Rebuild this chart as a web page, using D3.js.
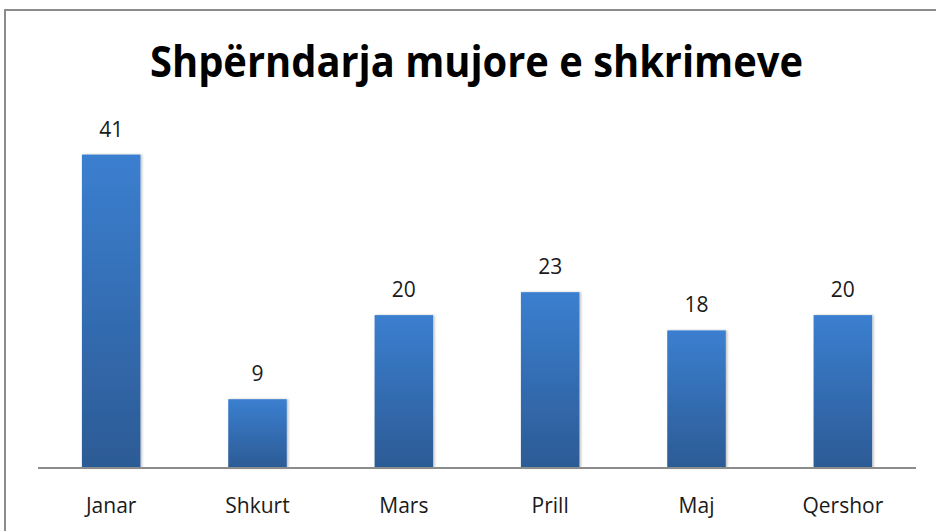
<!DOCTYPE html>
<html>
<head>
<meta charset="utf-8">
<script src="https://cdn.jsdelivr.net/npm/d3@7"></script>
<style>
  body { margin: 0; background: #fff; }
  svg { display: block; }
  text { font-family: "Open Sans", "Noto Sans", sans-serif; fill: #1a1a1a; }
</style>
</head>
<body>
<div id="chart"></div>
<script>
let width = 936
  , height = 531
  , marginLeft = 38
  , plotRight = 916
  , baseY = 468
  , topY = 124;

// data
let months = ['Janar', 'Shkurt', 'Mars', 'Prill', 'Maj', 'Qershor'];
let counts = [41, 9, 20, 23, 18, 20];
let title = 'Shpërndarja mujore e shkrimeve';

let svg = d3.select('#chart').append('svg').attr('width', width).attr('height', height);

let defs = svg.append('defs');
let grad = defs.append('linearGradient').attr('id', 'barGrad')
  .attr('x1', 0).attr('y1', 0).attr('x2', 0).attr('y2', 1);
grad.append('stop').attr('offset', '0%').attr('stop-color', '#3b7fd0');
grad.append('stop').attr('offset', '100%').attr('stop-color', '#2c5b95');

let shadow = defs.append('filter').attr('id', 'shadow')
  .attr('x', '-20%').attr('y', '-5%').attr('width', '140%').attr('height', '110%');
shadow.append('feDropShadow').attr('dx', 1.5).attr('dy', 0).attr('stdDeviation', 1.2)
  .attr('flood-color', '#000').attr('flood-opacity', 0.25);

// chart frame (runs off the right/bottom edge)
svg.append('rect')
  .attr('x', 5).attr('y', 10)
  .attr('width', width + 20).attr('height', height + 20)
  .attr('fill', '#fff').attr('stroke', '#8c8c8c').attr('stroke-width', 2);

var x = d3.scaleBand().domain(months).range([marginLeft, plotRight]).paddingInner(0.6).paddingOuter(0.3);
var y = d3.scaleLinear().domain([0, 45]).range([baseY, topY]);

// title is narrow (Calibri-like), so squeeze it to the reference width
svg.append('text')
  .attr('x', 150).attr('y', 77)
  .attr('textLength', 653).attr('lengthAdjust', 'spacingAndGlyphs')
  .style('font-family', '"Open Sans", sans-serif')
  .style('font-weight', 'bold').style('font-size', '43px')
  .style('fill', '#000')
  .text(title);

let data = months.map((m, i) => ({ month: m, value: counts[i] }));

svg.selectAll('rect.bar').data(data).enter()
  .append('rect').attr('class', 'bar')
  .attr('x', d => x(d.month))
  .attr('y', d => y(d.value))
  .attr('width', x.bandwidth())
  .attr('height', d => baseY - y(d.value))
  .attr('fill', 'url(#barGrad)')
  .attr('filter', 'url(#shadow)');

svg.selectAll('text.val').data(data).enter()
  .append('text').attr('class', 'val')
  .attr('x', d => x(d.month) + x.bandwidth() / 2)
  .attr('y', d => y(d.value) - 18)
  .attr('text-anchor', 'middle')
  .style('font-size', '21px')
  .text(d => d.value);

// x axis
let xAxis = svg.append('g').attr('transform', `translate(0,${baseY})`)
  .call(d3.axisBottom(x).tickSize(0).tickPadding(30));
xAxis.select('.domain').attr('stroke', '#8c8c8c').attr('stroke-width', 2)
  .attr('d', `M${marginLeft},0H${plotRight}`);
xAxis.selectAll('text')
  .style('font-family', '"Open Sans", sans-serif')
  .style('font-size', '21px').style('fill', '#1a1a1a');
</script>
</body>
</html>
